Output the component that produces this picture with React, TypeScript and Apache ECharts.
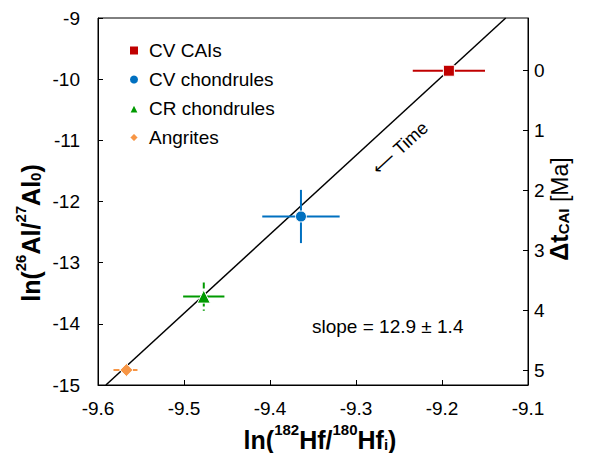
import React, { useEffect, useRef } from "react";
import * as echarts from "echarts";

const groups = ["CV CAIs", "CV chondrules", "CR chondrules", "Angrites"];
const hfValues = [-9.192, -9.364, -9.477, -9.567];
const alValues = [-9.862, -12.245, -13.555, -14.755];
const hfErrors = [0.042, 0.045, 0.024, 0.015];
const alErrors = [0, 0.435, 0.23, 0];
const fitHf = [-9.5908, -9.1259];
const fitAl = [-15, -9];
const timeTicks = [0, 1, 2, 3, 4, 5];
const timeRange = [-0.878, 5.238];

const colors = ["#c00000", "#0070c0", "#009a00", "#f79646"];
const symbols = ["rect", "circle", "triangle", "diamond"];
const symbolSizes = [11, 11, 13, 13];
const dashX = [false, false, false, true];
const dashY = [false, false, true, false];

const FONT = "Liberation Sans, Arial, sans-serif";

export default function App() {
  const ref = useRef<HTMLDivElement>(null);
  useEffect(() => {
    const chart = echarts.init(ref.current!, null, { renderer: "svg" });
    const errSeries = groups.map((g, i) => ({
      type: "custom",
      name: g + " err",
      xAxisIndex: 0,
      yAxisIndex: 0,
      z: 3,
      silent: true,
      data: [[hfValues[i], alValues[i], hfErrors[i], alErrors[i]]],
      renderItem: (params: any, api: any) => {
        const x = api.value(0), y = api.value(1), ex = api.value(2), ey = api.value(3);
        const children: any[] = [];
        if (ex > 0) {
          const l = api.coord([x - ex, y]), r = api.coord([x + ex, y]);
          children.push({
            type: "line",
            shape: { x1: l[0], y1: l[1], x2: r[0], y2: r[1] },
            style: { stroke: colors[i], lineWidth: 2, lineDash: dashX[i] ? [6, 3] : null },
          });
        }
        if (ey > 0) {
          const t = api.coord([x, y + ey]), b = api.coord([x, y - ey]);
          children.push({
            type: "line",
            shape: { x1: t[0], y1: t[1], x2: b[0], y2: b[1] },
            style: { stroke: colors[i], lineWidth: 2, lineDash: dashY[i] ? [6, 3] : null },
          });
        }
        return { type: "group", children };
      },
    }));
    const scatterSeries = groups.map((g, i) => ({
      type: "scatter",
      name: g,
      xAxisIndex: 0,
      yAxisIndex: 0,
      z: 5,
      symbol: symbols[i],
      symbolSize: symbolSizes[i],
      itemStyle: { color: colors[i], borderColor: "#fff", borderWidth: 1, opacity: 1 },
      data: [[hfValues[i], alValues[i]]],
    }));
    const richTitle = {
      m: { fontSize: 25, fontWeight: "bold", fontFamily: FONT, fill: "#000", verticalAlign: "bottom", lineHeight: 30 },
      s: { fontSize: 15, fontWeight: "bold", fontFamily: FONT, fill: "#000", verticalAlign: "top", lineHeight: 30 },
      b: { fontSize: 15, fontWeight: "bold", fontFamily: FONT, fill: "#000", verticalAlign: "bottom", lineHeight: 24 },
      n: { fontSize: 23, fontFamily: FONT, fill: "#000", verticalAlign: "bottom", lineHeight: 30 },
    };
    const option: any = {
      animation: false,
      grid: {
        left: 98, top: 18, right: 69, bottom: 68,
        show: true, borderColor: "#000", borderWidth: 1, backgroundColor: "transparent",
      },
      legend: {
        data: groups.map((g, i) => ({ name: g, icon: symbols[i] })),
        orient: "vertical",
        left: 123,
        top: 36,
        itemWidth: 10,
        itemHeight: 10,
        itemGap: 10,
        textStyle: { fontSize: 19, fontFamily: FONT, color: "#000", padding: [0, 0, 0, 5] },
      },
      xAxis: {
        type: "value",
        min: -9.6,
        max: -9.1,
        interval: 0.1,
        axisLine: { show: true, onZero: false, lineStyle: { color: "#000", width: 1 } },
        axisTick: { show: true, inside: true, length: 5, lineStyle: { color: "#000" } },
        axisLabel: { fontSize: 19, fontFamily: FONT, color: "#000", margin: 14, formatter: (v: number) => v.toFixed(1) },
        splitLine: { show: false },
      },
      yAxis: [
        {
          type: "value",
          min: -15,
          max: -9,
          interval: 1,
          axisLine: { show: true, onZero: false, lineStyle: { color: "#000", width: 1 } },
          axisTick: { show: true, inside: true, length: 5, lineStyle: { color: "#000" } },
          axisLabel: { fontSize: 19, fontFamily: FONT, color: "#000", margin: 18 },
          splitLine: { show: false },
        },
        {
          type: "value",
          position: "right",
          min: timeRange[0],
          max: timeRange[1],
          inverse: true,
          axisLine: { show: true, onZero: false, lineStyle: { color: "#000", width: 1 } },
          axisTick: { show: true, inside: true, length: 5, lineStyle: { color: "#000" }, customValues: timeTicks },
          axisLabel: { fontSize: 19, fontFamily: FONT, color: "#000", margin: 6, customValues: timeTicks },
          splitLine: { show: false },
        },
      ],
      series: [
        {
          type: "line",
          xAxisIndex: 0,
          yAxisIndex: 0,
          z: 2,
          symbol: "none",
          silent: true,
          lineStyle: { color: "#000", width: 1.5 },
          data: [[fitHf[0], fitAl[0]], [fitHf[1], fitAl[1]]],
        },
        ...errSeries,
        ...scatterSeries,
      ],
      graphic: [
        {
          type: "text",
          x: 320,
          y: 437,
          style: {
            text: "{m|ln(}{s|182}{m|Hf/}{s|180}{m|Hf}{b|i}{m|)}",
            align: "center",
            verticalAlign: "middle",
            rich: richTitle,
          },
        },
        {
          type: "text",
          x: 28,
          y: 233,
          rotation: Math.PI / 2,
          style: {
            text: "{m|ln(}{s|26}{m|Al/}{s|27}{m|Al}{b|0}{m|)}",
            align: "center",
            verticalAlign: "middle",
            rich: richTitle,
          },
        },
        {
          type: "text",
          x: 556,
          y: 209,
          rotation: Math.PI / 2,
          style: {
            text: "{m|Δt}{b|CAI}{n| [Ma]}",
            align: "center",
            verticalAlign: "middle",
            rich: richTitle,
          },
        },
        {
          type: "text",
          x: 400,
          y: 148,
          rotation: 0.74,
          style: {
            text: "{a|⟵}{t| Time}",
            align: "center",
            verticalAlign: "middle",
            rich: {
              a: { fontSize: 17, fontFamily: "DejaVu Sans", fill: "#000" },
              t: { fontSize: 18, fontFamily: FONT, fill: "#000" },
            },
          },
        },
        {
          type: "text",
          x: 312,
          y: 326,
          style: {
            text: "slope = 12.9 ± 1.4",
            align: "left",
            verticalAlign: "middle",
            fontSize: 19,
            fontFamily: FONT,
            fill: "#000",
          },
        },
      ],
    };
    chart.setOption(option);
    return () => chart.dispose();
  }, []);
  return <div ref={ref} style={{ width: 597, height: 453, position: "absolute", left: 0, top: 0 }} />;
}
